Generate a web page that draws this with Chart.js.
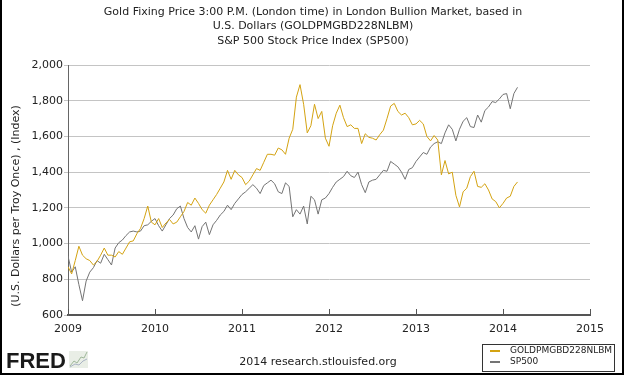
<!DOCTYPE html>
<html>
<head>
<meta charset="utf-8">
<script src="https://cdn.jsdelivr.net/npm/chart.js@4.4.1/dist/chart.umd.min.js"></script>
<style>
  html, body { margin: 0; padding: 0; background: #fff; }
  canvas { display: block; }
</style>
</head>
<body>
<canvas id="fred-chart" width="624" height="375"></canvas>
<script>
// Semi-monthly readings (1st and 16th of each month), Jan 2009 - early Mar 2014
const startYear = 2009;
const pointsPerYear = 24;

const goldValues = [
    // 2009
    870, 830, 905, 985, 935, 915, 905, 880, 900, 935, 975, 935,
    935, 925, 955, 940, 975, 1010, 1015, 1055, 1085, 1140, 1210, 1120,
    // 2010
    1105, 1140, 1090, 1115, 1135, 1110, 1120, 1150, 1180, 1230, 1215, 1255,
    1225, 1190, 1170, 1215, 1245, 1275, 1310, 1345, 1410, 1360, 1410, 1385,
    // 2011
    1370, 1330, 1350, 1385, 1420, 1410, 1455, 1500, 1500, 1495, 1535, 1525,
    1500, 1590, 1640, 1820, 1890, 1780, 1620, 1660, 1780, 1700, 1740, 1590,
    // 2012
    1545, 1660, 1730, 1775, 1705, 1655, 1665, 1645, 1645, 1560, 1615, 1595,
    1590, 1580, 1610, 1635, 1700, 1770, 1785, 1740, 1720, 1730, 1705, 1665,
    // 2013
    1670, 1690, 1670, 1600, 1575, 1605, 1580, 1385, 1465, 1390, 1400, 1270,
    1205, 1290, 1310, 1375, 1405, 1320, 1315, 1335, 1300, 1250, 1235, 1200,
    // 2014
    1225, 1255, 1265, 1320, 1345
];

const spValues = [
    // 2009
    930, 840, 870, 770, 680, 790, 840, 865, 905, 890, 940, 910,
    880, 975, 1005, 1020, 1045, 1065, 1070, 1065, 1070, 1100, 1105, 1125,
    // 2010
    1140, 1100, 1070, 1105, 1140, 1160, 1195, 1210, 1140, 1090, 1065, 1100,
    1025, 1095, 1120, 1050, 1105, 1130, 1160, 1180, 1215, 1190, 1225, 1250,
    // 2011
    1275, 1290, 1310, 1330, 1310, 1280, 1325, 1340, 1355, 1335, 1290, 1280,
    1340, 1320, 1150, 1190, 1165, 1210, 1110, 1265, 1245, 1165, 1245, 1255,
    // 2012
    1280, 1315, 1345, 1360, 1375, 1405, 1380, 1370, 1400, 1330, 1285, 1345,
    1355, 1360, 1385, 1410, 1405, 1460, 1445, 1430, 1400, 1360, 1415, 1425,
    // 2013
    1460, 1485, 1510, 1500, 1540, 1560, 1570, 1560, 1620, 1665, 1640, 1575,
    1640, 1685, 1705, 1655, 1650, 1720, 1680, 1745, 1765, 1795, 1790, 1810,
    // 2014
    1835, 1840, 1755, 1840, 1875
];

const yearTicks = [2009, 2010, 2011, 2012, 2013, 2014, 2015];
const valueTicks = [600, 800, 1000, 1200, 1400, 1600, 1800, 2000];
const seriesNames = ['GOLDPMGBD228NLBM', 'SP500'];
const titleLines = [
    'Gold Fixing Price 3:00 P.M. (London time) in London Bullion Market, based in',
    'U.S. Dollars (GOLDPMGBD228NLBM)',
    'S&P 500 Stock Price Index (SP500)'
];
const yAxisTitle = '(U.S. Dollars per Troy Once) , (Index)';
const footerText = '2014 research.stlouisfed.org';

const GOLD = '#d4a312';
const GREY = '#747474';
const FONT = '"DejaVu Sans", Verdana, sans-serif';

function toPoints(values) {
    return values.map((v, i) => ({ x: startYear + i / pointsPerYear, y: v }));
}

// Extra drawing: titles, year tick marks, legend, logo, frame
const fredDecorations = {
    id: 'fredDecorations',
    beforeDraw(chart) {
        const ctx = chart.ctx;
        ctx.save();
        ctx.fillStyle = '#fff';
        ctx.fillRect(0, 0, chart.width, chart.height);
        ctx.restore();
    },
    afterDraw(chart) {
        const ctx = chart.ctx;
        const area = chart.chartArea;
        const xScale = chart.scales.x;
        ctx.save();

        // year tick marks point up into the plot
        ctx.strokeStyle = '#555';
        ctx.lineWidth = 1;
        yearTicks.forEach(yr => {
            const px = Math.round(xScale.getPixelForValue(yr)) + 0.5;
            ctx.beginPath();
            ctx.moveTo(px, area.bottom - 6);
            ctx.lineTo(px, area.bottom);
            ctx.stroke();
        });

        // title
        ctx.fillStyle = '#222';
        ctx.font = '11px ' + FONT;
        ctx.textAlign = 'center';
        ctx.textBaseline = 'middle';
        titleLines.forEach((line, i) => {
            ctx.fillText(line, 313, 12 + i * 14.5);
        });

        // y-axis title
        ctx.save();
        ctx.translate(16, 206);
        ctx.rotate(-Math.PI / 2);
        ctx.font = '11px ' + FONT;
        ctx.fillText(yAxisTitle, 0, 0);
        ctx.restore();

        // legend
        ctx.strokeStyle = '#333';
        ctx.strokeRect(482.5, 344.5, 132, 27);
        ctx.font = '9px ' + FONT;
        ctx.textAlign = 'left';
        [GOLD, GREY].forEach((col, i) => {
            const ly = 351 + i * 11;
            ctx.strokeStyle = col;
            ctx.lineWidth = 2;
            ctx.beginPath();
            ctx.moveTo(490, ly);
            ctx.lineTo(500, ly);
            ctx.stroke();
            ctx.fillStyle = '#222';
            ctx.fillText(seriesNames[i], 510, ly);
        });

        // FRED logo
        ctx.fillStyle = '#1a1a1a';
        ctx.font = 'bold 22px "Liberation Sans", Arial, sans-serif';
        ctx.textBaseline = 'alphabetic';
        ctx.fillText('FRED', 6, 368);
        ctx.fillStyle = '#e9eee6';
        ctx.fillRect(69, 351, 19, 17);
        ctx.strokeStyle = '#9fb89a';
        ctx.lineWidth = 1;
        ctx.beginPath();
        ctx.moveTo(70, 366); ctx.lineTo(74, 361); ctx.lineTo(77, 363);
        ctx.lineTo(81, 357); ctx.lineTo(84, 358); ctx.lineTo(87, 352);
        ctx.stroke();
        ctx.strokeStyle = '#a9b3c4';
        ctx.beginPath();
        ctx.moveTo(70, 367); ctx.lineTo(75, 364); ctx.lineTo(79, 365);
        ctx.lineTo(83, 361); ctx.lineTo(87, 359);
        ctx.stroke();

        // footer
        ctx.fillStyle = '#222';
        ctx.font = '11px ' + FONT;
        ctx.textAlign = 'center';
        ctx.textBaseline = 'middle';
        ctx.fillText(footerText, 318, 362);

        // outer frame
        ctx.fillStyle = '#000';
        ctx.fillRect(0, 0, 2, chart.height);
        ctx.fillRect(chart.width - 2, 0, 2, chart.height);
        ctx.fillRect(0, chart.height - 2, chart.width, 2);

        ctx.restore();
    }
};

new Chart(document.getElementById('fred-chart'), {
    type: 'line',
    data: {
        datasets: [
            {
                label: seriesNames[0],
                data: toPoints(goldValues),
                borderColor: GOLD,
                borderWidth: 1,
                pointRadius: 0,
                tension: 0,
                fill: false
            },
            {
                label: seriesNames[1],
                data: toPoints(spValues),
                borderColor: GREY,
                borderWidth: 1,
                pointRadius: 0,
                tension: 0,
                fill: false
            }
        ]
    },
    options: {
        responsive: false,
        animation: false,
        locale: 'en-US',
        layout: {
            padding: { top: 65, right: 34, left: 0, bottom: 0 }
        },
        scales: {
            x: {
                type: 'linear',
                min: 2009,
                max: 2015,
                afterBuildTicks: scale => {
                    scale.ticks = yearTicks.map(v => ({ value: v }));
                },
                afterFit: scale => { scale.height = 60; },
                grid: { display: false, drawTicks: false, tickLength: 0 },
                border: { display: true, color: '#555', width: 2 },
                ticks: {
                    padding: 8,
                    maxRotation: 0,
                    color: '#222',
                    font: { family: FONT, size: 11 },
                    callback: v => String(v)
                }
            },
            y: {
                min: 600,
                max: 2000,
                afterBuildTicks: scale => {
                    scale.ticks = valueTicks.map(v => ({ value: v }));
                },
                afterFit: scale => { scale.width = 68; },
                grid: { color: '#c4c4c4', lineWidth: 1, tickLength: 4 },
                border: { display: true, color: '#666', width: 1 },
                ticks: {
                    padding: 1,
                    color: '#222',
                    font: { family: FONT, size: 11 },
                    callback: v => v.toLocaleString('en-US')
                }
            }
        },
        plugins: {
            legend: { display: false },
            title: { display: false },
            tooltip: { enabled: false }
        }
    },
    plugins: [fredDecorations]
});
</script>
</body>
</html>
